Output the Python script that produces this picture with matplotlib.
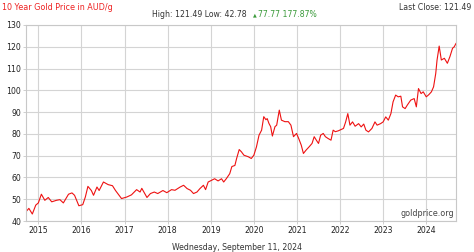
import matplotlib
matplotlib.use("Agg")
import matplotlib.pyplot as plt

# decimal year / price in AUD per gram
years = [2014.71, 2014.78, 2014.86, 2014.94, 2015.00, 2015.07, 2015.15, 2015.23,
         2015.31, 2015.42, 2015.50, 2015.58, 2015.70, 2015.78, 2015.84, 2015.94,
         2016.03, 2016.09, 2016.15, 2016.23, 2016.28, 2016.36, 2016.41, 2016.51,
         2016.62, 2016.72, 2016.79, 2016.93, 2017.05, 2017.16, 2017.28, 2017.36,
         2017.40, 2017.52, 2017.60, 2017.69, 2017.77, 2017.89, 2017.98, 2018.09,
         2018.17, 2018.29, 2018.37, 2018.45, 2018.53, 2018.60, 2018.68, 2018.75,
         2018.83, 2018.88, 2018.94, 2019.01, 2019.09, 2019.17, 2019.25, 2019.30,
         2019.36, 2019.44, 2019.49, 2019.56, 2019.60, 2019.66, 2019.71, 2019.77,
         2019.87, 2019.94, 2020.00, 2020.06, 2020.12, 2020.18, 2020.23, 2020.28,
         2020.31, 2020.35, 2020.39, 2020.43, 2020.49, 2020.53, 2020.59, 2020.64,
         2020.72, 2020.80, 2020.86, 2020.92, 2020.99, 2021.04, 2021.10, 2021.15,
         2021.21, 2021.28, 2021.35, 2021.40, 2021.45, 2021.50, 2021.55, 2021.61,
         2021.66, 2021.72, 2021.79, 2021.84, 2021.89, 2021.96, 2022.08, 2022.13,
         2022.18, 2022.23, 2022.29, 2022.35, 2022.43, 2022.49, 2022.55, 2022.60,
         2022.66, 2022.74, 2022.81, 2022.86, 2022.94, 2023.00, 2023.06, 2023.12,
         2023.18, 2023.23, 2023.29, 2023.35, 2023.41, 2023.45, 2023.51, 2023.56,
         2023.64, 2023.72, 2023.77, 2023.82, 2023.88, 2023.93, 2024.00, 2024.06,
         2024.12, 2024.17, 2024.22, 2024.25, 2024.30, 2024.35, 2024.42, 2024.49,
         2024.55, 2024.61, 2024.65, 2024.69]
prices = [44.2, 45.8, 43.2, 47.3, 48.3, 52.3, 49.5, 50.8,
          48.8, 49.5, 49.8, 48.3, 52.3, 52.9, 51.8, 47.0,
          47.5, 51.0, 55.9, 54.0, 51.8, 55.6, 54.0, 57.9,
          56.7, 56.2, 54.0, 50.3, 51.0, 52.0, 54.4, 53.3,
          55.0, 50.8, 52.6, 53.3, 52.6, 54.0, 53.0, 54.4,
          54.1, 55.6, 56.4, 54.9, 54.1, 52.6, 53.3, 54.9,
          56.4, 54.4, 57.9, 58.6, 59.4, 58.4, 59.4, 57.9,
          59.4, 61.7, 65.0, 65.5, 68.7, 72.8, 71.8, 70.2,
          69.5, 68.7, 70.2, 74.0, 79.4, 81.7, 87.9, 86.5,
          87.0, 84.8, 83.3, 79.0, 83.3, 84.0, 90.9, 86.3,
          85.6, 85.6, 84.0, 78.7, 80.2, 77.9, 74.8, 71.0,
          72.5, 74.0, 75.6, 78.7, 77.1, 75.6, 79.4, 80.2,
          78.7, 77.9, 77.1, 81.7, 81.0, 81.4, 82.5, 85.5,
          89.3, 84.0, 85.5, 83.5, 84.7, 83.2, 84.5, 81.7,
          80.9, 82.5, 85.5, 84.0, 84.7, 85.5, 87.8, 86.3,
          89.3, 94.7, 97.8, 97.0, 97.3, 92.4, 91.6, 93.2,
          95.5, 96.2, 92.4, 100.8, 98.5, 99.3, 97.0, 98.0,
          99.3, 101.6, 107.7, 113.8, 120.3, 113.9, 114.7, 112.4,
          115.5, 119.3, 120.0, 121.5]

year_ticks = [2015, 2016, 2017, 2018, 2019, 2020, 2021, 2022, 2023, 2024]
price_ticks = [40, 50, 60, 70, 80, 90, 100, 110, 120, 130]

fig = plt.figure(figsize=(4.74, 2.52), dpi=100)
ax = fig.add_axes([0.055, 0.123, 0.907, 0.778])

ax.plot(years, prices, color="#ee1111", linewidth=0.8)

ax.set_xlim(2014.715, 2024.69)
ax.set_ylim(40, 130)
ax.set_xticks(year_ticks)
ax.set_xticklabels([str(y) for y in year_ticks])
ax.set_yticks(price_ticks)
ax.grid(True, color="#d4d4d4", linewidth=0.8)
ax.set_axisbelow(True)
ax.tick_params(labelsize=5.6, length=2, width=0.6, color="#c8c8c8",
               labelcolor="#222222", pad=1.5)
for s in ax.spines.values():
    s.set_color("#c8c8c8")
    s.set_linewidth(0.8)

ax.text(0.995, 0.015, "goldprice.org", transform=ax.transAxes, ha="right",
        va="bottom", fontsize=5.8, color="#444444")

fig.text(2 / 474, 1 - 8 / 252, "10 Year Gold Price in AUD/g", color="#ee2222",
         fontsize=5.8, va="center", ha="left")
fig.text(471 / 474, 1 - 7 / 252, "Last Close: 121.49", color="#333333",
         fontsize=5.6, va="center", ha="right")
fig.text(152 / 474, 1 - 14.5 / 252, "High: 121.49 Low: 42.78", color="#333333",
         fontsize=5.6, va="center", ha="left")
fig.text(253 / 474, 1 - 14.5 / 252, "\u25b2", color="#3a9a3a",
         fontsize=3.5, va="center", ha="left")
fig.text(258 / 474, 1 - 14.5 / 252, "77.77 177.87%", color="#3a9a3a",
         fontsize=5.6, va="center", ha="left")
fig.text(237 / 474, 1 - 247 / 252, "Wednesday, September 11, 2024", color="#333333",
         fontsize=5.6, va="center", ha="center")

fig.savefig("out.png", dpi=100)
